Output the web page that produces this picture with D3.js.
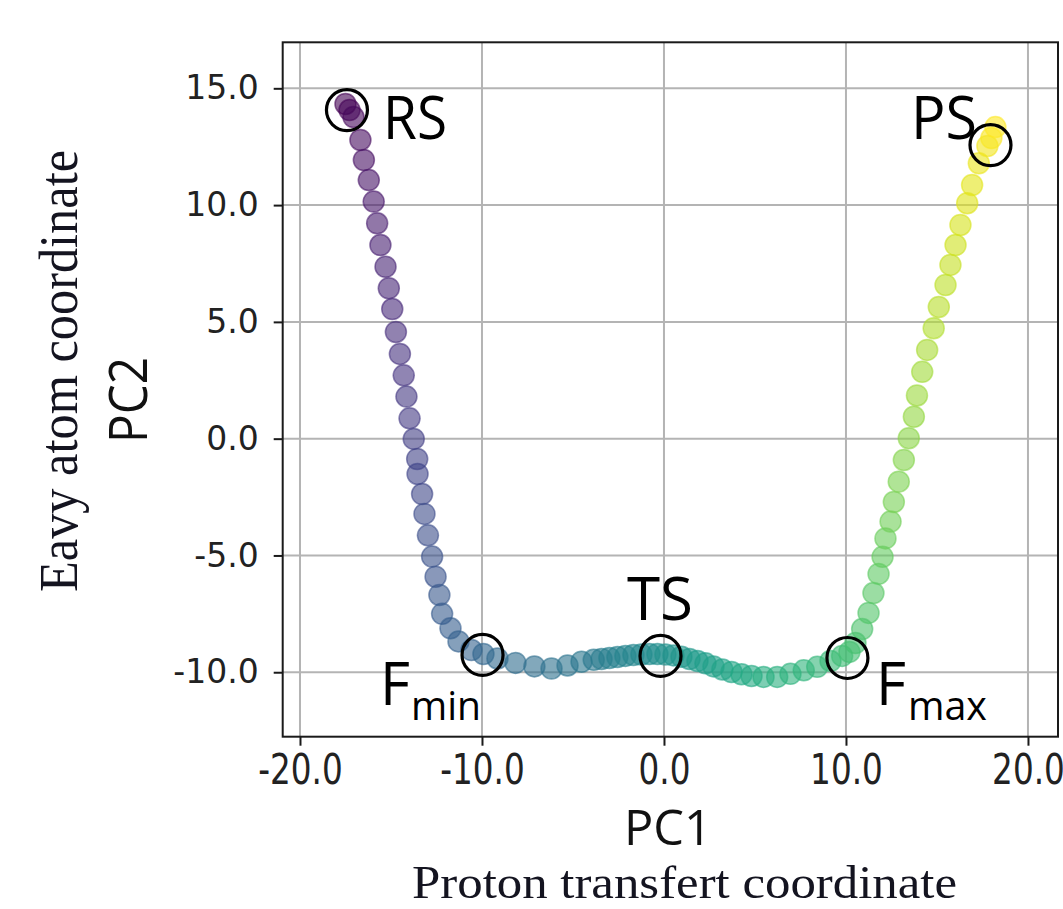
<!DOCTYPE html>
<html>
<head>
<meta charset="utf-8">
<script src="https://cdn.jsdelivr.net/npm/d3@7"></script>
<style>
  html, body { margin: 0; padding: 0; background: #fff; }
  svg { display: block; }
</style>
</head>
<body>
<svg id="chart" width="1063" height="909"></svg>
<script>
// ---- data ----
const pc1 = [-17.50,-17.28,-17.06,-16.68,-16.49,-16.22,-15.95,-15.76,-15.58,-15.30,-15.12,-14.93,-14.73,-14.51,-14.30,-14.15,-13.98,-13.75,-13.56,-13.54,-13.29,-13.16,-12.97,-12.74,-12.55,-12.34,-12.19,-11.73,-11.29,-10.58,-9.92,-9.15,-8.16,-7.12,-6.18,-5.30,-4.53,-3.86,-3.43,-3.00,-2.56,-2.12,-1.68,-1.24,-0.80,-0.36,0.08,0.52,0.96,1.40,1.84,2.28,2.72,3.21,3.71,4.26,4.81,5.47,6.22,6.95,7.68,8.42,9.15,9.79,10.19,10.52,10.89,11.24,11.51,11.79,12.01,12.17,12.45,12.63,12.90,13.18,13.45,13.73,13.90,14.19,14.46,14.82,15.10,15.47,15.74,16.02,16.29,16.66,16.93,17.30,17.77,17.99,18.21];
const pc2 = [14.33,14.07,13.77,12.79,11.93,11.07,10.15,9.22,8.29,7.36,6.44,5.55,4.57,3.63,2.71,1.80,0.87,-0.01,-0.87,-1.51,-2.37,-3.22,-4.14,-5.05,-5.91,-6.69,-7.50,-8.12,-8.68,-9.05,-9.22,-9.41,-9.60,-9.75,-9.84,-9.71,-9.55,-9.47,-9.43,-9.39,-9.35,-9.30,-9.26,-9.24,-9.22,-9.22,-9.24,-9.28,-9.34,-9.43,-9.52,-9.62,-9.75,-9.88,-9.99,-10.09,-10.16,-10.20,-10.20,-10.07,-9.92,-9.77,-9.52,-9.30,-9.13,-8.75,-8.15,-7.46,-6.61,-5.79,-5.06,-4.27,-3.55,-2.71,-1.84,-0.91,0.02,0.94,1.85,2.86,3.80,4.73,5.64,6.58,7.44,8.29,9.15,10.08,10.86,11.79,12.53,12.87,13.34];

// landmark states (circled points)
const stateNames = ["RS", "Fmin", "TS", "Fmax", "PS"];
const stateX = [-17.42, -9.97, -0.19, 10.08, 17.94];
const stateY = [14.07, -9.26, -9.30, -9.39, 12.57];

const xTicks = [-20, -10, 0, 10, 20];
const xTickLabels = ["-20.0", "-10.0", "0.0", "10.0", "20.0"];
const yTicks = [-10, -5, 0, 5, 10, 15];
const yTickLabels = ["-10.0", "-5.0", "0.0", "5.0", "10.0", "15.0"];

// ---- layout ----
const L = 282.7, R = 1058, T = 42.3, B = 736.7;
const svg = d3.select("#chart");
svg.append("rect").attr("width", 1063).attr("height", 909).attr("fill", "#fff");

const x = d3.scaleLinear().domain([-20.95, 21.65]).range([L, R]);
const y = d3.scaleLinear().domain([-12.76, 16.97]).range([B, T]);
const color = d3.scaleSequential(d3.interpolateViridis).domain([0, pc1.length - 1]);

// grid
const grid = svg.append("g");
grid.selectAll("line.gx").data(xTicks).join("line")
  .attr("x1", d => x(d)).attr("x2", d => x(d)).attr("y1", T).attr("y2", B)
  .attr("stroke", "#b4b4b4").attr("stroke-width", 2);
grid.selectAll("line.gy").data(yTicks).join("line")
  .attr("y1", d => y(d)).attr("y2", d => y(d)).attr("x1", L).attr("x2", R)
  .attr("stroke", "#b4b4b4").attr("stroke-width", 2);

// points
const pts = pc1.map((v, i) => ({ x: v, y: pc2[i], i }));
svg.append("g").selectAll("circle").data(pts).join("circle")
  .attr("cx", d => x(d.x)).attr("cy", d => y(d.y)).attr("r", 10.5)
  .attr("fill", d => color(d.i)).attr("fill-opacity", 0.6)
  .attr("stroke", d => color(d.i)).attr("stroke-opacity", 0.6).attr("stroke-width", 1.5);

// frame
svg.append("rect").attr("x", L).attr("y", T).attr("width", R - L).attr("height", B - T)
  .attr("fill", "none").attr("stroke", "#1a1a1a").attr("stroke-width", 2);

// axes
const yAxis = svg.append("g").attr("transform", `translate(${L},0)`)
  .call(d3.axisLeft(y).tickValues(yTicks).tickSize(9).tickPadding(15)
    .tickFormat((d, i) => yTickLabels[i]));
yAxis.select(".domain").remove();
yAxis.selectAll("line").attr("stroke", "#1a1a1a").attr("stroke-width", 2);
yAxis.selectAll("text").attr("font-family", "DejaVu Sans").attr("font-size", 33)
  .attr("fill", "#222");

const xAxis = svg.append("g").attr("transform", `translate(0,${B})`)
  .call(d3.axisBottom(x).tickValues(xTicks).tickSize(9).tickPadding(8)
    .tickFormat((d, i) => xTickLabels[i]));
xAxis.select(".domain").remove();
xAxis.selectAll("line").attr("stroke", "#1a1a1a").attr("stroke-width", 2);
xAxis.selectAll("text").attr("font-family", "DejaVu Sans").attr("font-size", 43)
  .attr("fill", "#222").attr("transform", "scale(0.76,1)");

// state circles
svg.append("g").selectAll("circle").data(stateNames).join("circle")
  .attr("cx", (d, i) => x(stateX[i])).attr("cy", (d, i) => y(stateY[i])).attr("r", 20.5)
  .attr("fill", "none").attr("stroke", "#000").attr("stroke-width", 3.2);

// annotations
const ann = svg.append("g").attr("font-family", "Open Sans").attr("fill", "#000");
ann.append("text").attr("x", 383).attr("y", 139).attr("font-size", 60)
  .attr("textLength", 64).attr("lengthAdjust", "spacingAndGlyphs").text("RS");
ann.append("text").attr("x", 911).attr("y", 139).attr("font-size", 60)
  .attr("textLength", 66).attr("lengthAdjust", "spacingAndGlyphs").text("PS");
ann.append("text").attr("x", 627).attr("y", 620).attr("font-size", 60)
  .attr("textLength", 66).attr("lengthAdjust", "spacingAndGlyphs").text("TS");
ann.append("text").attr("x", 380).attr("y", 705).attr("font-size", 60)
  .attr("textLength", 30).attr("lengthAdjust", "spacingAndGlyphs").text("F");
ann.append("text").attr("x", 411).attr("y", 720).attr("font-size", 41)
  .attr("textLength", 70).attr("lengthAdjust", "spacingAndGlyphs").text("min");
ann.append("text").attr("x", 876).attr("y", 705).attr("font-size", 60)
  .attr("textLength", 30).attr("lengthAdjust", "spacingAndGlyphs").text("F");
ann.append("text").attr("x", 908).attr("y", 720).attr("font-size", 41)
  .attr("textLength", 79).attr("lengthAdjust", "spacingAndGlyphs").text("max");

// axis titles
svg.append("text").attr("x", 624).attr("y", 845).attr("font-family", "Open Sans")
  .attr("font-size", 50).attr("fill", "#111")
  .attr("textLength", 88).attr("lengthAdjust", "spacingAndGlyphs").text("PC1");
svg.append("text").attr("transform", "translate(147,443) rotate(-90)")
  .attr("font-family", "Open Sans").attr("font-size", 53).attr("fill", "#111")
  .attr("textLength", 86).attr("lengthAdjust", "spacingAndGlyphs").text("PC2");

svg.append("text").attr("transform", "translate(77,592) rotate(-90)")
  .attr("font-family", "Liberation Serif").attr("font-size", 54).attr("fill", "#141420")
  .attr("textLength", 442).attr("lengthAdjust", "spacingAndGlyphs").text("Eavy atom coordinate");
svg.append("text").attr("x", 412).attr("y", 898)
  .attr("font-family", "Liberation Serif").attr("font-size", 46).attr("fill", "#141420")
  .attr("textLength", 545).attr("lengthAdjust", "spacingAndGlyphs").text("Proton transfert coordinate");
</script>
</body>
</html>
